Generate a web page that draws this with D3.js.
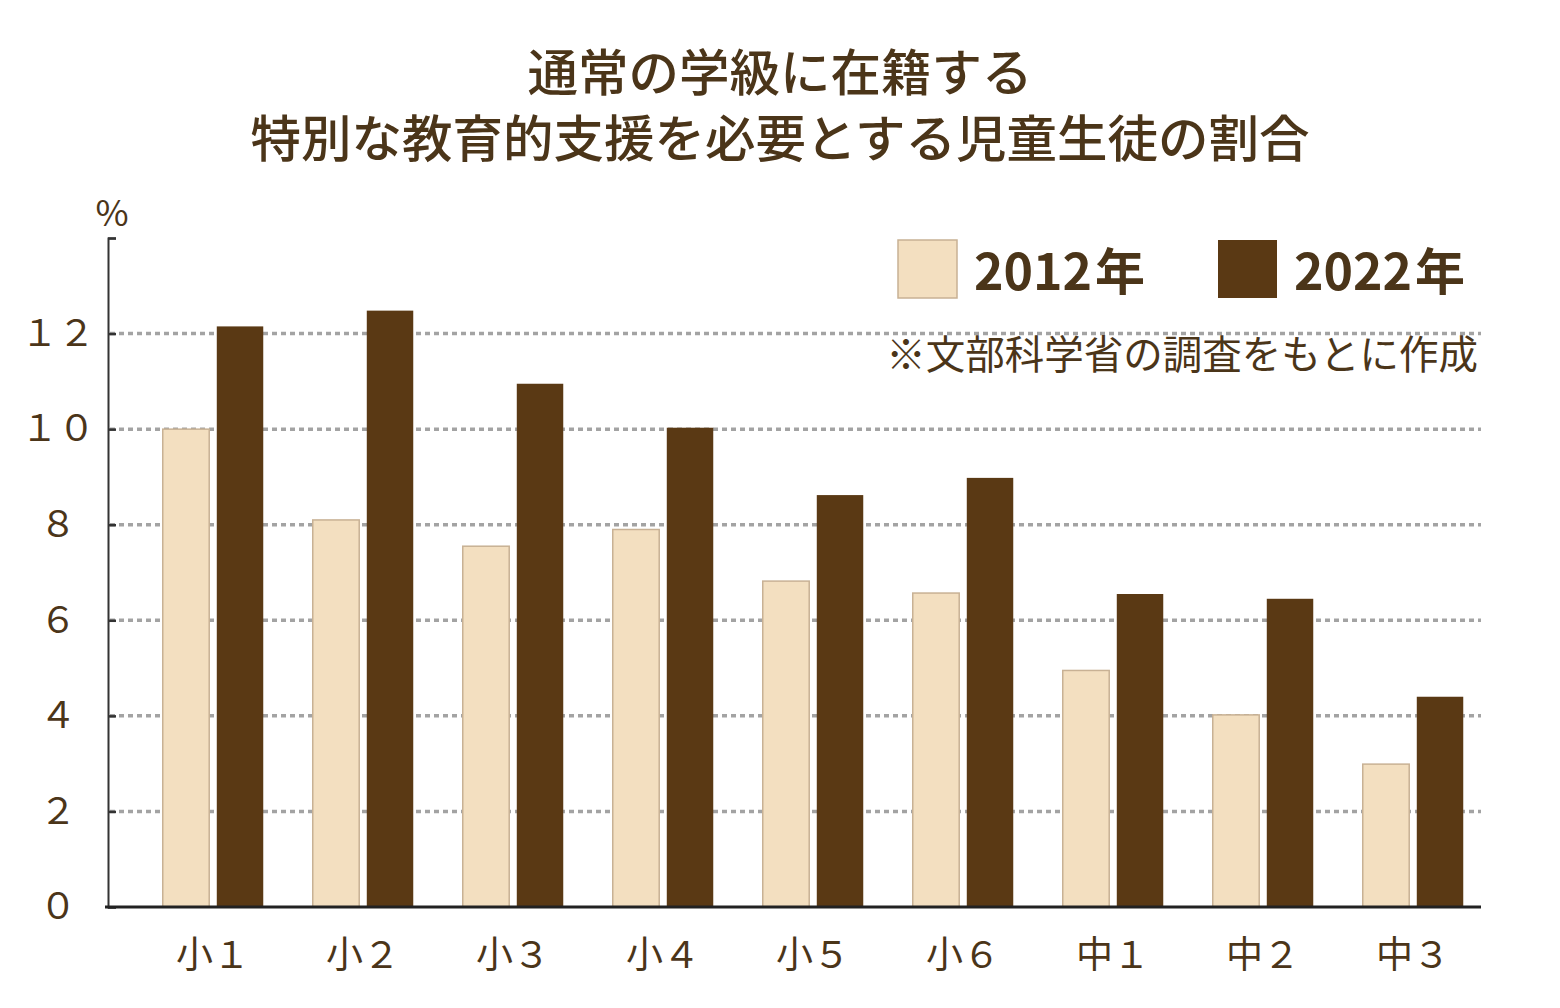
<!DOCTYPE html>
<html>
<head>
<meta charset="utf-8">
<script src="https://cdn.jsdelivr.net/npm/d3@7"></script>
<style>
  html, body { margin: 0; padding: 0; background: #fff; }
  svg { display: block; font-family: "Noto Sans CJK JP", "Noto Sans", sans-serif; }
</style>
</head>
<body>
<svg width="1560" height="1008"></svg>
<script>
// data
const grades = ['小１', '小２', '小３', '小４', '小５', '小６', '中１', '中２', '中３'];
const years = ['2012年', '2022年'];
const values2012 = [10.0, 8.1, 7.55, 7.9, 6.82, 6.57, 4.95, 4.02, 2.99];
const values2022 = [12.15, 12.48, 10.95, 10.03, 8.62, 8.98, 6.55, 6.45, 4.4];
const yTicks = [0, 2, 4, 6, 8, 10, 12];
const titleLines = ['通常の学級に在籍する', '特別な教育的支援を必要とする児童生徒の割合'];
const note = '※文部科学省の調査をもとに作成';

const textColor = '#4b3519';
const colors = ['#f3dfc0', '#5a3914'];

const svg = d3.select('svg');
const margin = { top: 238, right: 79, bottom: 101, left: 108 };
const W = 1560, H = 1008;
const height = H - margin.bottom;

const toFull = n => String(n).replace(/[0-9]/g, c => String.fromCharCode(c.charCodeAt(0) + 0xFEE0));

const x0 = d3.scaleBand()
  .domain(grades)
  .range([138, 1488])
  .paddingInner(0.33)
  .paddingOuter(0.165);

const x1 = d3.scaleBand()
  .domain(years)
  .range([0, x0.bandwidth()])
  .paddingInner(0.14);

const y = d3.scaleLinear()
  .domain([0, 14])
  .range([height, margin.top]);

const color = d3.scaleOrdinal().domain(years).range(colors);

const data = grades.map((g, i) => ({ grade: g, values: [values2012[i], values2022[i]] }));

// title, one text block with a tspan per line
svg.append('text')
  .attr('text-anchor', 'middle')
  .attr('font-size', 50.5)
  .attr('font-weight', 500)
  .attr('fill', textColor)
  .selectAll('tspan')
  .data(titleLines)
  .enter().append('tspan')
  .attr('x', 780)
  .attr('y', (d, i) => 91 + i * 66)
  .text(d => d);

// gridlines
svg.append('g')
  .selectAll('line')
  .data(yTicks.filter(t => t > 0))
  .enter().append('line')
  .attr('x1', margin.left + 2)
  .attr('x2', 1481)
  .attr('y1', d => y(d))
  .attr('y2', d => y(d))
  .attr('stroke', '#a3a3a3')
  .attr('stroke-width', 3.5)
  .attr('stroke-dasharray', '5,4');

// bars
const g = svg.append('g');
g.selectAll('g')
  .data(data)
  .enter().append('g')
  .attr('transform', d => `translate(${x0(d.grade)},0)`)
  .selectAll('rect')
  .data(d => years.map((k, i) => ({ key: k, value: d.values[i] })))
  .enter().append('rect')
  .attr('x', d => x1(d.key))
  .attr('y', d => y(d.value))
  .attr('width', x1.bandwidth())
  .attr('height', d => height - y(d.value))
  .attr('fill', d => color(d.key))
  .attr('stroke', d => d.key === years[0] ? '#c8b194' : 'none')
  .attr('stroke-width', 1.5);

// y axis
const yAxis = svg.append('g')
  .attr('transform', `translate(${margin.left},0)`)
  .call(d3.axisLeft(y)
    .tickValues([...yTicks, 14])
    .tickSize(-8)
    .tickSizeOuter(-8)
    .tickFormat(d => d === 14 ? '' : toFull(d)));
yAxis.select('.domain').attr('stroke', '#333').attr('stroke-width', 2);
yAxis.selectAll('.tick line').attr('stroke', '#333').attr('stroke-width', 2.5);
yAxis.selectAll('.tick text')
  .attr('x', 58 - margin.left)
  .attr('text-anchor', 'middle')
  .attr('font-family', '"Noto Sans CJK JP", sans-serif')
  .attr('font-size', 37)
  .attr('fill', textColor);

svg.append('text')
  .attr('x', 112)
  .attr('y', 226)
  .attr('text-anchor', 'middle')
  .attr('font-size', 36)
  .attr('fill', textColor)
  .text('%');

// x axis
const xAxis = svg.append('g')
  .attr('transform', `translate(0,${height})`)
  .call(d3.axisBottom(x0).tickSize(0).tickPadding(0));
xAxis.select('.domain').remove();
xAxis.append('line')
  .attr('x1', margin.left - 3)
  .attr('x2', 1481)
  .attr('stroke', '#222')
  .attr('stroke-width', 3);
xAxis.selectAll('.tick text')
  .attr('y', 61)
  .attr('dy', 0)
  .attr('font-family', '"Noto Sans CJK JP", sans-serif')
  .attr('font-size', 37)
  .attr('fill', textColor);

// legend
const legendX = [898, 1218];
const legend = svg.append('g')
  .selectAll('g')
  .data(years)
  .enter().append('g')
  .attr('transform', (d, i) => `translate(${legendX[i]},240)`);
legend.append('rect')
  .attr('width', 59)
  .attr('height', 58)
  .attr('fill', d => color(d))
  .attr('stroke', (d, i) => i === 0 ? '#c8b194' : 'none')
  .attr('stroke-width', 1.5);
legend.append('text')
  .attr('x', 76)
  .attr('y', 50)
  .attr('font-size', 50)
  .attr('font-weight', 700)
  .attr('fill', textColor)
  .text(d => d.replace('年', '\u200a年'));

svg.append('text')
  .attr('x', 1478)
  .attr('y', 369)
  .attr('text-anchor', 'end')
  .attr('font-size', 39.5)
  .attr('fill', textColor)
  .text(note);
</script>
</body>
</html>
